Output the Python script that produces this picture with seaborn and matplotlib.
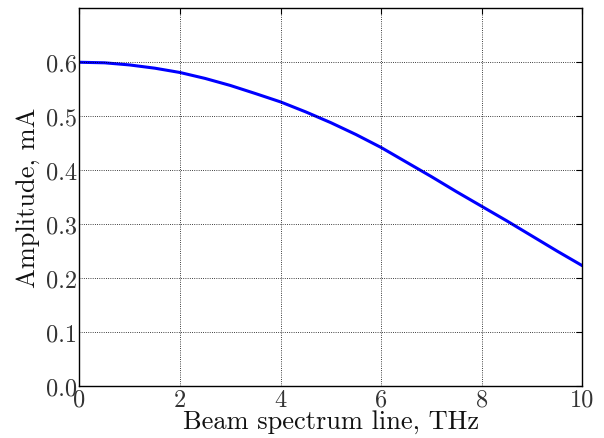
import os
import matplotlib
matplotlib.use("Agg")
import matplotlib.pyplot as plt
from matplotlib.font_manager import FontProperties
import seaborn as sns
import pandas as pd

# Data
freq_thz = [0.0, 0.5, 1.0, 1.5, 2.0, 2.5, 3.0, 3.5, 4.0, 4.5, 5.0,
            5.5, 6.0, 6.5, 7.0, 7.5, 8.0, 8.5, 9.0, 9.5, 10.0]
amplitude_ma = [0.600, 0.599, 0.595, 0.589, 0.581, 0.570, 0.557, 0.542, 0.5265, 0.508, 0.488,
                0.466, 0.442, 0.415, 0.388, 0.360, 0.333, 0.306, 0.278, 0.250, 0.223]
x_ticks = [0, 2, 4, 6, 8, 10]
y_ticks = [0.0, 0.1, 0.2, 0.3, 0.4, 0.5, 0.6]
x_label = "Beam spectrum line, THz"
y_label = "Amplitude, mA"

df = pd.DataFrame({"f": freq_thz, "a": amplitude_ma})

sns.set_style("white")
plt.rcParams["font.family"] = ["DejaVu Serif"]
plt.rcParams["mathtext.fontset"] = "cm"
plt.rcParams["axes.unicode_minus"] = False

cm_path = os.path.join(matplotlib.get_data_path(), "fonts", "ttf", "cmr10.ttf")
if os.path.exists(cm_path):
    def cmfont(size):
        return FontProperties(fname=cm_path, size=size)
else:
    def cmfont(size):
        return FontProperties(family="DejaVu Serif", size=size)

fig = plt.figure(figsize=(6.04, 4.39), dpi=100)
ax = fig.add_axes([0.1316, 0.1185, 0.964 - 0.1316, 0.9788 - 0.1185])

sns.lineplot(data=df, x="f", y="a", ax=ax, color="#0000ff", linewidth=2.2)

ax.set_xlim(0, 10)
ax.set_ylim(0, 0.7)
ax.set_xticks(x_ticks)
ax.set_xticklabels([str(t) for t in x_ticks], fontproperties=cmfont(17.5), color="#333333")
ax.set_yticks(y_ticks)
ax.set_yticklabels([f"{t:.1f}" for t in y_ticks], fontproperties=cmfont(17.5), color="#333333")
ax.tick_params(axis="both", which="both", direction="in", top=True, right=True,
               length=4, width=0.8, colors="#000000", pad=2)
for lab in ax.get_xticklabels() + ax.get_yticklabels():
    lab.set_color("#333333")
for s in ax.spines.values():
    s.set_color("#000000")
    s.set_linewidth(1.0)
    s.set_visible(True)
ax.grid(True, linestyle=":", color="#000000", linewidth=0.6)
ax.set_axisbelow(False)

ax.set_xlabel(x_label, fontproperties=cmfont(19), labelpad=-1, color="#111111")
ax.set_ylabel(y_label, fontproperties=cmfont(19), labelpad=4, color="#111111")

fig.savefig("out.png", dpi=100)
